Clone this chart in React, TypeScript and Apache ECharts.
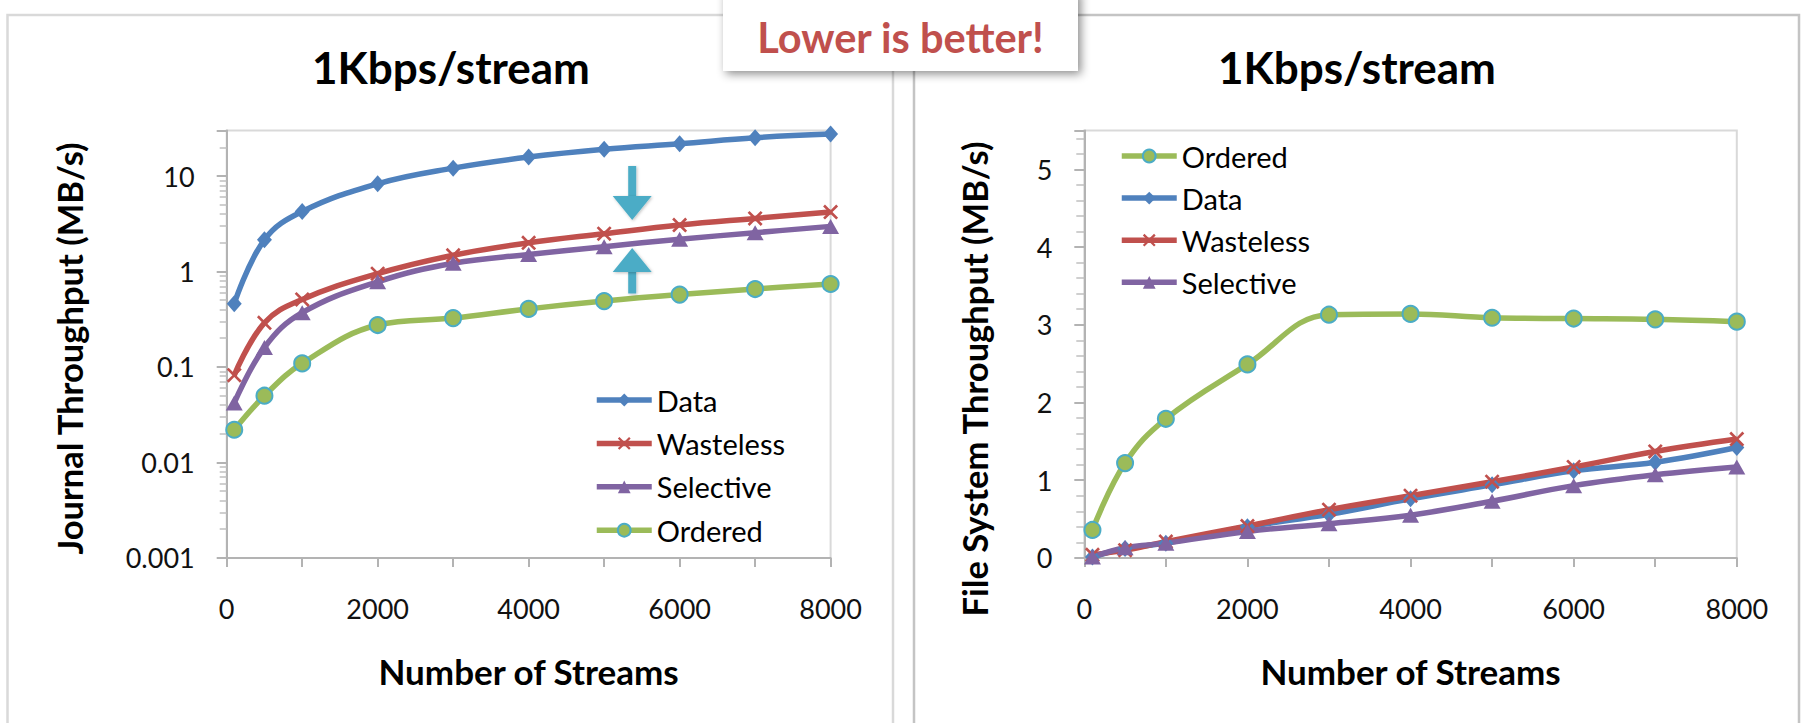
import React, { useEffect, useRef } from 'react';
import * as echarts from 'echarts';

// ---- data ----
const streams = [100, 500, 1000, 2000, 3000, 4000, 5000, 6000, 7000, 8000];

// Journal throughput (MB/s), log scale
const journalData = [0.46, 2.15, 4.25, 8.3, 12.1, 15.8, 19.1, 21.8, 25.2, 27.5];
const journalWasteless = [0.082, 0.29, 0.51, 0.95, 1.48, 2.0, 2.49, 3.07, 3.6, 4.2];
const journalSelective = [0.042, 0.16, 0.37, 0.78, 1.22, 1.51, 1.82, 2.18, 2.55, 2.97];
const journalOrdered = [0.022, 0.05, 0.109, 0.275, 0.325, 0.406, 0.49, 0.573, 0.655, 0.74];

// File system throughput (MB/s)
const fsOrdered = [0.36, 1.22, 1.79, 2.49, 3.13, 3.14, 3.09, 3.08, 3.07, 3.04];
const fsData = [0.01, 0.12, 0.19, 0.4, 0.56, 0.76, 0.94, 1.12, 1.23, 1.42];
const fsWasteless = [0.04, 0.1, 0.21, 0.41, 0.62, 0.8, 0.98, 1.17, 1.37, 1.53];
const fsSelective = [0.01, 0.13, 0.19, 0.34, 0.44, 0.55, 0.73, 0.93, 1.07, 1.17];

const leftYLabels = ['0.001', '0.01', '0.1', '1', '10'];
const rightYLabels = ['0', '1', '2', '3', '4', '5'];
const xLabels = ['0', '2000', '4000', '6000', '8000'];

const leftLegendOrder = ['Data', 'Wasteless', 'Selective', 'Ordered'];
const rightLegendOrder = ['Ordered', 'Data', 'Wasteless', 'Selective'];

const chartTitle = '1Kbps/stream';
const xTitle = 'Number of Streams';
const leftYTitle = 'Journal Throughput (MB/s)';
const rightYTitle = 'File System Throughput (MB/s)';
const callout = 'Lower is better!';

const COLORS = {
  Data: '#4F81BD',
  Wasteless: '#C0504D',
  Selective: '#8064A2',
  Ordered: '#9BBB59',
};

const CROSS =
  'path://M0,1.5 L1.5,0 L6,4.5 L10.5,0 L12,1.5 L7.5,6 L12,10.5 L10.5,12 L6,7.5 L1.5,12 L0,10.5 L4.5,6 Z';

const FONT = 'Lato';

function pairs(vals: number[]) {
  return streams.map((x, i) => [x, vals[i]]);
}

function makeSeries(name: string, vals: number[], idx: number) {
  const base: any = {
    name,
    type: 'line',
    xAxisIndex: idx,
    yAxisIndex: idx,
    data: pairs(vals),
    smooth: 0.4,
    showSymbol: true,
    lineStyle: { width: 5.5, color: (COLORS as any)[name] },
    itemStyle: { color: (COLORS as any)[name] },
    emphasis: { disabled: true },
  };
  if (name === 'Data') {
    base.symbol = 'diamond';
    base.symbolSize = [15, 17];
  } else if (name === 'Wasteless') {
    base.symbol = CROSS;
    base.symbolSize = 15;
  } else if (name === 'Selective') {
    base.symbol = 'triangle';
    base.symbolSize = [17, 15];
  } else {
    base.symbol = 'circle';
    base.symbolSize = 16;
    base.itemStyle = { color: COLORS.Ordered, borderColor: '#4BACC6', borderWidth: 2 };
  }
  return base;
}

const axisLineStyle = { color: '#B3B3B3', width: 2 };
const labelStyle = { fontFamily: FONT, fontSize: 27, color: '#111' };

export default function App() {
  const ref = useRef<HTMLDivElement>(null);

  useEffect(() => {
    document.body.style.margin = '0';
    const chart = echarts.init(ref.current!, undefined, { renderer: 'svg' });

    const xAxisCommon = (gridIndex: number) => ({
      type: 'value',
      gridIndex,
      min: 0,
      max: 8000,
      interval: 1000,
      splitLine: { show: false },
      axisLine: { show: true, lineStyle: axisLineStyle },
      axisTick: { show: true, length: 9, lineStyle: axisLineStyle },
      axisLabel: {
        ...labelStyle,
        margin: 37,
        formatter: (v: number) => {
          const s = String(Math.round(v));
          return xLabels.indexOf(s) >= 0 ? s : '';
        },
      },
    });

    const legendCommon = {
      orient: 'vertical',
      padding: 0,
      itemWidth: 55,
      itemHeight: 16,
      selectedMode: false,
      lineStyle: { width: 5.5 },
      textStyle: { fontFamily: FONT, fontSize: 29, color: '#000', lineHeight: 30 },
    };

    const titleText = (x: number, y: number, text: string, size: number, rot = 0) => ({
      type: 'text',
      z: 10,
      x,
      y,
      rotation: rot,
      style: { text, fontFamily: FONT, fontWeight: 'bold', fontSize: size, fill: '#000', align: 'center', verticalAlign: 'middle' },
    });

    const arrowStyle = { fill: '#4BACC6', shadowBlur: 3, shadowColor: 'rgba(0,0,0,0.25)', shadowOffsetX: 1, shadowOffsetY: 1 };

    const option: any = {
      animation: false,
      textStyle: { fontFamily: FONT },
      grid: [
        { left: 226.7, top: 130.5, width: 603.9, height: 427.4, show: true, borderColor: '#D9D9D9', borderWidth: 2, backgroundColor: 'transparent' },
        { left: 1084.3, top: 130.5, width: 652.5, height: 427.4, show: true, borderColor: '#D9D9D9', borderWidth: 2, backgroundColor: 'transparent' },
      ],
      xAxis: [xAxisCommon(0), xAxisCommon(1)],
      yAxis: [
        {
          type: 'log',
          gridIndex: 0,
          logBase: 10,
          min: 0.001,
          max: 30,
          interval: 1,
          splitLine: { show: false },
          axisLine: { show: true, lineStyle: axisLineStyle },
          axisTick: { show: true, length: 10, lineStyle: axisLineStyle },
          minorTick: { show: true, splitNumber: 9, length: 7, lineStyle: { color: '#BFBFBF', width: 1.5 } },
          minorSplitLine: { show: false },
          axisLabel: {
            ...labelStyle,
            margin: 32,
            formatter: (v: number) => {
              const lg = Math.log10(v);
              const e = Math.round(lg);
              if (Math.abs(lg - e) > 1e-6) return '';
              return leftYLabels[e + 3] ?? '';
            },
          },
        },
        {
          type: 'value',
          gridIndex: 1,
          min: 0,
          max: 5.5,
          interval: 1,
          splitLine: { show: false },
          axisLine: { show: true, lineStyle: axisLineStyle },
          axisTick: { show: true, length: 10, lineStyle: axisLineStyle },
          minorTick: { show: true, splitNumber: 5, length: 8, lineStyle: { color: '#BFBFBF', width: 1.5 } },
          minorSplitLine: { show: false },
          axisLabel: {
            ...labelStyle,
            margin: 32,
            formatter: (v: number) => {
              const s = String(Math.round(v * 100) / 100);
              return rightYLabels.indexOf(s) >= 0 ? s : '';
            },
          },
        },
      ],
      legend: [
        { ...legendCommon, data: leftLegendOrder, left: 594, top: 385, itemGap: 13.4 },
        { ...legendCommon, data: rightLegendOrder, left: 1119, top: 141, itemGap: 12.1 },
      ],
      series: [
        makeSeries('Data', journalData, 0),
        makeSeries('Wasteless', journalWasteless, 0),
        makeSeries('Selective', journalSelective, 0),
        makeSeries('Ordered', journalOrdered, 0),
        makeSeries('Ordered', fsOrdered, 1),
        makeSeries('Data', fsData, 1),
        makeSeries('Wasteless', fsWasteless, 1),
        makeSeries('Selective', fsSelective, 1),
      ],
      graphic: [
        // panel frames
        { type: 'rect', z: -10, shape: { x: 7.5, y: 15, width: 885.5, height: 740 }, style: { fill: 'transparent', stroke: '#D9D9D9', lineWidth: 2.5 } },
        { type: 'rect', z: -10, shape: { x: 914, y: 15, width: 885, height: 740 }, style: { fill: 'transparent', stroke: '#C4C4C4', lineWidth: 2.5 } },
        // chart titles
        titleText(451, 67, chartTitle, 44),
        titleText(1357, 67, chartTitle, 44),
        // axis titles
        titleText(528.6, 671, xTitle, 35),
        titleText(1410.5, 671, xTitle, 35),
        titleText(69, 348.5, leftYTitle, 34.5, Math.PI / 2),
        titleText(974, 379, rightYTitle, 34.5, Math.PI / 2),
        // arrows
        { type: 'rect', z: 20, shape: { x: 628.2, y: 166, width: 8, height: 31 }, style: arrowStyle },
        { type: 'polygon', z: 20, shape: { points: [[612.7, 196], [651.7, 196], [632.2, 220]] }, style: arrowStyle },
        { type: 'rect', z: 20, shape: { x: 628.2, y: 271, width: 8, height: 22.5 }, style: arrowStyle },
        { type: 'polygon', z: 20, shape: { points: [[632.2, 248], [651.7, 272], [612.7, 272]] }, style: arrowStyle },
        // callout
        { type: 'rect', z: 100, shape: { x: 723, y: -10, width: 355, height: 81 }, style: { fill: '#FFFFFF', shadowBlur: 10, shadowColor: 'rgba(0,0,0,0.45)', shadowOffsetX: 3, shadowOffsetY: 3 } },
        { type: 'text', z: 101, x: 900.5, y: 37, style: { text: callout, fontFamily: FONT, fontWeight: 'bold', fontSize: 41.5, fill: '#C0504D', align: 'center', verticalAlign: 'middle' } },
      ],
    };

    chart.setOption(option);
    return () => chart.dispose();
  }, []);

  return (
    <div
      ref={ref}
      style={{ position: 'absolute', left: 0, top: 0, width: 1803, height: 723, background: '#fff' }}
    />
  );
}
